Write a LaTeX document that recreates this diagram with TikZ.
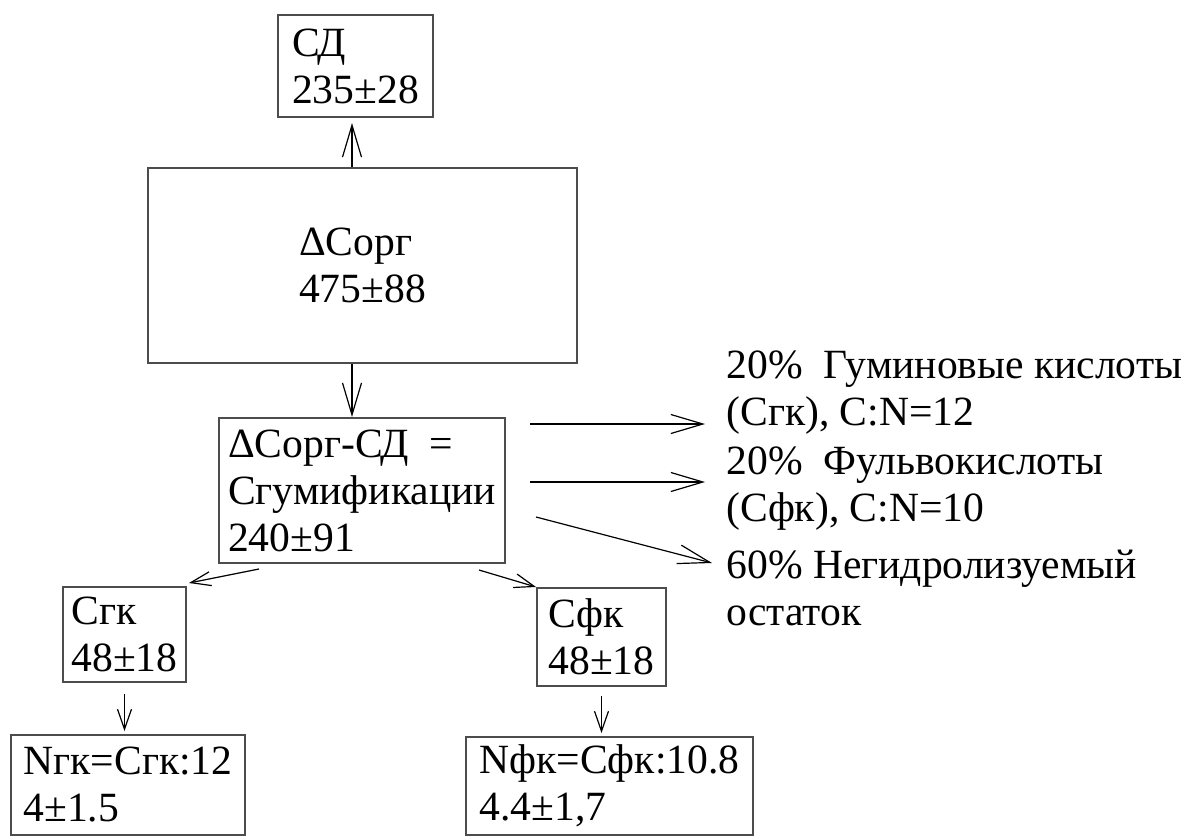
\documentclass[tikz,border=0pt]{standalone}
\usepackage{fontspec}
\setmainfont{Liberation Serif}
\usetikzlibrary{arrows.meta,calc}

\begin{document}
\begin{tikzpicture}[
    x=0.5pt, y=-0.5pt,
    every node/.style={font=\fontsize{20.8}{23.5}\selectfont},
    box/.style={
        draw=black!70,
        line width=1pt,
        align=left,
        inner sep=0pt
    },
    note/.style={
        align=left,
        anchor=north west,
        inner sep=0pt
    },
    arr/.style={
        line width=0.6pt,
        -{Straight Barb[length=16pt,width=9.5pt,line width=0.6pt]}
    },
    arrs/.style={
        line width=0.6pt,
        -{Straight Barb[length=10pt,width=7pt,line width=0.6pt]}
    }
]
    \useasboundingbox (0,0) rectangle (1185,836);

    % Boxes of the scheme
    \node[
        box,
        minimum width=77.5pt,
        minimum height=51pt
    ] (sd) at (355.5,66) {СД\\235±28};

    \node[
        box,
        minimum width=214.5pt,
        minimum height=97.5pt
    ] (corg) at (362.5,265.5) {ΔСорг\\475±88};

    \node[
        box,
        minimum width=143pt,
        minimum height=72.5pt
    ] (gum) at (362,490.5) {ΔСорг-СД\ \ =\\Сгумификации\\240±91};

    \node[
        box,
        minimum width=61.5pt,
        minimum height=47.5pt
    ] (sgk) at (124.5,634.5) {Сгк\\48±18};

    \node[
        box,
        minimum width=64.5pt,
        minimum height=49pt
    ] (sfk) at (601.5,637) {Сфк\\48±18};

    \node[
        box,
        minimum width=117pt,
        minimum height=50pt
    ] (ngk) at (128,785) {Nгк=Сгк:12\\4±1.5};

    \node[
        box,
        minimum width=143.5pt,
        minimum height=49pt
    ] (nfk) at (609.5,786) {Nфк=Сфк:10.8\\4.4±1,7};

    % Fractions on the right
    \node[note] (hum) at (726,350) {20\%\ \ Гуминовые кислоты\\(Сгк), C:N=12};
    \node[note] (ful) at (726,446) {20\%\ \ Фульвокислоты\\(Сфк), C:N=10};
    \node[note] (ost) at (726,550) {60\% Негидролизуемый\\остаток};

    % Vertical arrows
    \draw[arr, shorten >=2.5pt] ([xshift=-1.75pt]sd.south |- corg.north) -- ([xshift=-1.75pt]sd.south);
    \draw[arr] ([xshift=-5.25pt]corg.south) -- ([xshift=-5.25pt]corg.south |- gum.north);

    % Arrows to the fractions
    \draw[arr] ($(gum.north east)+(24,7)$) -- ($(hum.north west)+(-21,74)$);
    \draw[arr] ($(gum.north east)+(24,65)$) -- ($(ful.north west)+(-21,36)$);
    \draw[arr] ($(gum.east)+(30,26.5)$) -- ($(ost.north west)+(-14,13)$);

    % Arrows down to the acids
    \draw[arrs] ($(gum.south west)+(41,5)$) -- ($(sgk.north east)+(2,-3)$);
    \draw[arrs] ($(gum.south east)+(-27,6)$) -- (sfk.north west);
    \draw[arrs, shorten >=1.5pt] ([yshift=-5.5pt]sgk.south) -- (sgk.south |- ngk.north);
    \draw[arrs, shorten >=1.5pt] ([yshift=-4.5pt]sfk.south) -- (sfk.south |- nfk.north);

\end{tikzpicture}
\end{document}
